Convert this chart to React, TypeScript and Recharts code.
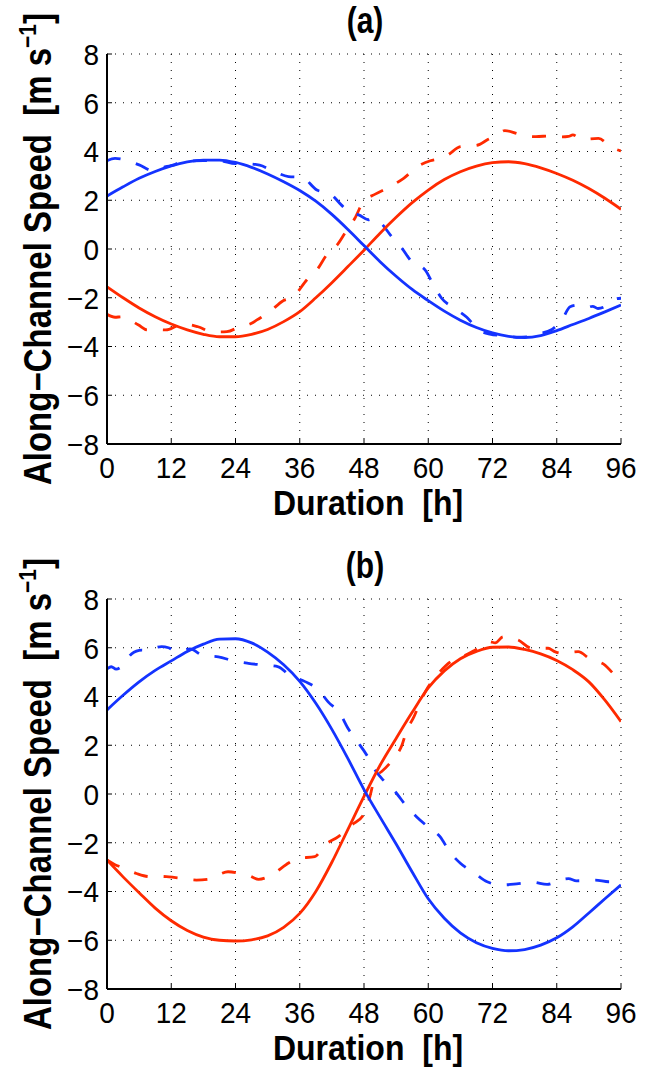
import React from 'react';
import { LineChart, Line, XAxis, YAxis, CartesianGrid } from 'recharts';

// ---------- tick labels ----------
const hourTicks = [0, 12, 24, 36, 48, 60, 72, 84, 96];
const speedTicks = [-8, -6, -4, -2, 0, 2, 4, 6, 8];

// ---------- panel (a) ----------
const aSolidHours = [0, 3, 6, 9, 12, 15, 18, 21, 24, 27, 30, 33, 36, 39, 42, 45, 48, 51, 54, 57, 60, 63, 66, 69, 72, 75, 78, 81, 84, 87, 90, 93, 96];
const aBlueSolid = [2.17, 2.55, 2.9, 3.18, 3.41, 3.57, 3.65, 3.65, 3.55, 3.35, 3.08, 2.76, 2.4, 1.96, 1.42, 0.8, 0.14, -0.52, -1.12, -1.66, -2.12, -2.55, -2.92, -3.22, -3.44, -3.58, -3.63, -3.55, -3.35, -3.1, -2.85, -2.58, -2.3];
const aRedSolid = [-1.55, -2.0, -2.42, -2.78, -3.08, -3.32, -3.5, -3.6, -3.6, -3.5, -3.3, -2.98, -2.57, -2.0, -1.38, -0.72, -0.05, 0.65, 1.3, 1.9, 2.42, 2.85, 3.17, 3.4, 3.54, 3.58, 3.5, 3.33, 3.1, 2.82, 2.48, 2.08, 1.63];

const aBlueDashHours = [0, 1.5, 3, 6, 8.5, 11, 12.5, 13.5, 15, 18, 21, 24, 26, 28.5, 31, 33.9, 36.4, 39.2, 41.6, 43.8, 45.5, 47, 48.8, 49.8, 51, 53.2, 55.1, 56.9, 59.4, 61, 62.5, 65, 67.2, 69.4, 71.5, 74.7, 76.5, 78.5, 80.3, 83.1, 85.1, 86.5, 88, 89.6, 90.7, 91.7, 93.5, 95, 96];
const aBlueDash = [3.62, 3.72, 3.68, 3.45, 3.22, 3.38, 3.45, 3.55, 3.6, 3.63, 3.62, 3.5, 3.5, 3.44, 3.2, 2.97, 2.94, 2.42, 2.28, 1.8, 1.46, 1.4, 1.2, 1.27, 1.1, 0.5, 0.03, -0.52, -0.86, -1.48, -2.02, -2.44, -2.8, -3.32, -3.49, -3.57, -3.62, -3.6, -3.49, -3.3, -2.85, -2.37, -2.3, -2.4, -2.35, -2.44, -2.3, -2.05, -2.02];

const aRedDashHours = [0, 1.5, 2.7, 5.9, 7.5, 9, 11, 13.6, 15, 17, 19.5, 21, 22.4, 24.8, 27, 28, 30.4, 32.9, 34.8, 37.3, 39.2, 41, 43.2, 44.4, 46.3, 47.9, 50.1, 53.2, 55.4, 58, 60.4, 62, 63.6, 66, 69, 71.2, 73, 74.3, 76.8, 78.5, 80.1, 82.8, 85, 86.2, 87, 88.7, 91.8, 94, 96];
const aRedDash = [-2.68, -2.8, -2.78, -3.12, -3.32, -3.3, -3.32, -3.12, -3.1, -3.19, -3.39, -3.4, -3.39, -3.19, -3.05, -2.91, -2.57, -2.12, -1.96, -1.27, -0.86, -0.25, 0.23, 0.64, 1.26, 1.95, 2.25, 2.6, 2.9, 3.38, 3.62, 3.7, 3.85, 4.2, 4.25, 4.5, 4.7, 4.86, 4.72, 4.62, 4.61, 4.64, 4.6, 4.62, 4.68, 4.5, 4.54, 4.2, 4.02];

// ---------- panel (b) ----------
const bSolidHours = [0, 3, 6, 9, 12, 15, 18, 21, 24, 27, 30, 33, 36, 39, 42, 45, 48, 51, 54, 57, 60, 63, 66, 69, 72, 75, 78, 81, 84, 87, 90, 93, 96];
const bBlueSolid = [3.45, 4.05, 4.6, 5.07, 5.46, 5.85, 6.15, 6.35, 6.37, 6.2, 5.82, 5.3, 4.62, 3.72, 2.65, 1.45, 0.18, -0.95, -2.05, -3.2, -4.3, -5.1, -5.7, -6.1, -6.33, -6.43, -6.38, -6.2, -5.9, -5.45, -4.88, -4.3, -3.73];
const bRedSolid = [-2.71, -3.4, -4.05, -4.68, -5.2, -5.6, -5.87, -6.0, -6.03, -5.98, -5.82, -5.47, -4.9, -4.0, -2.8, -1.45, -0.1, 1.18, 2.28, 3.35, 4.35, 5.05, 5.55, 5.85, 6.02, 6.03, 5.93, 5.75, 5.48, 5.1, 4.6, 3.85, 2.97];

const bBlueDashHours = [0, 0.8, 1.7, 2.7, 4.6, 5.5, 6.5, 7.4, 9, 10.2, 11.5, 13, 15.5, 18, 20.8, 23.6, 26.4, 29.2, 32, 34, 37, 39.5, 41.3, 43.5, 45, 46.6, 48.5, 50, 51.6, 53.8, 56, 57.8, 60.3, 62.2, 64, 66, 68.7, 71, 73.7, 76.5, 79.5, 82.2, 85.1, 86.2, 87.7, 91.2, 93.7, 96];
const bBlueDash = [5.13, 5.22, 5.12, 5.22, 5.75, 5.86, 5.9, 5.88, 6.0, 6.05, 6.0, 5.84, 5.95, 5.68, 5.63, 5.46, 5.36, 5.29, 5.22, 4.88, 4.61, 4.27, 3.78, 3.31, 2.7, 2.2, 1.6, 1.0, 0.57, 0.1, -0.52, -0.93, -1.41, -1.75, -2.37, -2.84, -3.25, -3.6, -3.73, -3.69, -3.62, -3.71, -3.5, -3.47, -3.56, -3.53, -3.6, -3.55];

const bRedDashHours = [0, 1.5, 2.7, 5.5, 8, 9.5, 11.1, 12.5, 14, 16.7, 19.2, 21, 22.6, 25.2, 26.5, 28.3, 30.8, 33.5, 35.7, 38.8, 40.7, 43.2, 45.7, 47.9, 49, 50.1, 51.3, 53.5, 55.1, 56, 57.2, 58.8, 60, 62.2, 64.7, 66.3, 68.8, 71.5, 72.5, 74, 76.8, 79.3, 82.4, 83.5, 84.9, 88, 90.2, 93, 94.9, 96];
const bRedDash = [-2.71, -2.9, -3.0, -3.26, -3.39, -3.38, -3.39, -3.42, -3.46, -3.53, -3.49, -3.3, -3.19, -3.28, -3.35, -3.5, -3.32, -2.89, -2.64, -2.57, -2.09, -1.75, -1.27, -0.86, -0.19, 0.71, 0.92, 1.45, 2.01, 2.63, 3.11, 3.92, 4.4, 5.02, 5.5, 5.63, 5.91, 6.25, 6.2, 6.45, 6.32, 5.98, 5.98, 5.85, 5.77, 5.84, 5.54, 5.29, 4.88, 4.76];

const RED = '#ff2a00';
const BLUE = '#1433ff';
const FONT = '"Liberation Sans", Arial, Helvetica, sans-serif';

type Pt = { h: number; v: number };
const zip = (hs: number[], vs: number[]): Pt[] => hs.map((h, i) => ({ h, v: vs[i] }));

const minus = (v: number) => String(v).replace('-', '\u2212');

type SeriesDef = { data: Pt[]; color: string; dashed: boolean };

const TICK_FS = 28;
const TICK_K = 1.08;

const XTick = (p: any) => {
  const baseline = p.y + 0.716 * TICK_FS * TICK_K;
  return (
    <text transform={`translate(${p.x}, ${baseline}) scale(1, ${TICK_K})`} textAnchor="middle" fontFamily={FONT} fontSize={TICK_FS} fill="#000">
      {String(p.payload.value)}
    </text>
  );
};

const YTick = (p: any) => {
  const baseline = p.y + (0.716 * TICK_FS * TICK_K) / 2;
  return (
    <text transform={`translate(${p.x}, ${baseline}) scale(1, ${TICK_K})`} textAnchor="end" fontFamily={FONT} fontSize={TICK_FS} fill="#000">
      {minus(p.payload.value)}
    </text>
  );
};

function Panel({ title, height, top, series }: { title: string; height: number; top: number; series: SeriesDef[] }) {
  const plotH = 390;
  const xAxisH = height - top - plotH;

  const xLabel = (p: any) => {
    const vb = p.viewBox || { x: 107, y: top + plotH, width: 514 };
    const cx = vb.x + vb.width / 2 + 4;
    const by = vb.y + 71;
    return (
      <text transform={`translate(${cx}, ${by}) scale(1, 1.12)`} textAnchor="middle" fontFamily={FONT} fontWeight="bold" fontSize={32} fill="#000" style={{ whiteSpace: 'pre' }}>
        {'Duration  [h]'}
      </text>
    );
  };

  const yLabelAndTitle = (p: any) => {
    const vb = p.viewBox || { x: 0, y: top, width: 107, height: plotH };
    const cx = vb.x + 51;
    const cy = vb.y + vb.height / 2;
    const tx = vb.x + vb.width + 258;
    const ty = vb.y - 21;
    return (
      <g>
        <text transform={`translate(${cx}, ${cy}) rotate(-90) scale(1, 1.15)`} textAnchor="middle" fontFamily={FONT} fontWeight="bold" fontSize={33} fill="#000" style={{ whiteSpace: 'pre' }}>
          <tspan>{'Along\u2212Channel Speed  [m s'}</tspan>
          <tspan dy={-13} fontSize={21}>{'\u22121'}</tspan>
          <tspan dy={13}>{']'}</tspan>
        </text>
        <text transform={`translate(${tx}, ${ty}) scale(1, 1.2)`} textAnchor="middle" fontFamily={FONT} fontWeight="bold" fontSize={30} fill="#000">
          {title}
        </text>
      </g>
    );
  };

  return (
    <LineChart width={656} height={height} margin={{ top, right: 35, left: 0, bottom: 0 }}>
      <CartesianGrid stroke="#000" strokeWidth={1} strokeDasharray="1 7" />
      <XAxis
        dataKey="h"
        type="number"
        domain={[0, 96]}
        ticks={hourTicks}
        allowDataOverflow
        height={xAxisH}
        tickSize={-5}
        tickMargin={17}
        axisLine={{ stroke: '#000', strokeWidth: 2 }}
        tickLine={{ stroke: '#000' }}
        tick={XTick}
        interval={0}
        label={xLabel}
      />
      <XAxis
        xAxisId="top"
        orientation="top"
        type="number"
        domain={[0, 96]}
        ticks={hourTicks}
        height={0}
        tickSize={-5}
        tick={false}
        axisLine={{ stroke: '#000', strokeWidth: 2 }}
        tickLine={{ stroke: '#000' }}
      />
      <YAxis
        type="number"
        domain={[-8, 8]}
        ticks={speedTicks}
        allowDataOverflow
        width={107}
        tickSize={-5}
        tickMargin={13}
        interval={0}
        axisLine={{ stroke: '#000', strokeWidth: 2 }}
        tickLine={{ stroke: '#000' }}
        tick={YTick}
        label={yLabelAndTitle}
      />
      <YAxis
        yAxisId="right"
        orientation="right"
        type="number"
        domain={[-8, 8]}
        ticks={speedTicks}
        width={0}
        tickSize={-5}
        tick={false}
        axisLine={{ stroke: '#000', strokeWidth: 2 }}
        tickLine={{ stroke: '#000' }}
      />
      {series.map((s, i) => (
        <Line
          key={i}
          data={s.data}
          dataKey="v"
          type="monotone"
          stroke={s.color}
          strokeWidth={2.8}
          strokeDasharray={s.dashed ? '14 16' : undefined}
          dot={false}
          activeDot={false}
          isAnimationActive={false}
        />
      ))}
    </LineChart>
  );
}

export default function App() {
  const seriesA: SeriesDef[] = [
    { data: zip(aRedDashHours, aRedDash), color: RED, dashed: true },
    { data: zip(aBlueDashHours, aBlueDash), color: BLUE, dashed: true },
    { data: zip(aSolidHours, aRedSolid), color: RED, dashed: false },
    { data: zip(aSolidHours, aBlueSolid), color: BLUE, dashed: false },
  ];
  const seriesB: SeriesDef[] = [
    { data: zip(bRedDashHours, bRedDash), color: RED, dashed: true },
    { data: zip(bBlueDashHours, bBlueDash), color: BLUE, dashed: true },
    { data: zip(bSolidHours, bRedSolid), color: RED, dashed: false },
    { data: zip(bSolidHours, bBlueSolid), color: BLUE, dashed: false },
  ];
  return (
    <div style={{ width: 656, height: 1069, background: '#fff', overflow: 'hidden' }}>
      <style>{'body{margin:0;}'}</style>
      <Panel title="(a)" height={535} top={54} series={seriesA} />
      <Panel title="(b)" height={534} top={64} series={seriesB} />
    </div>
  );
}
